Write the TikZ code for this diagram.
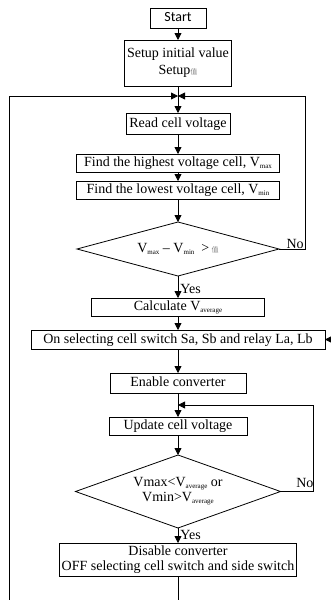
\documentclass[tikz,border=0pt]{standalone}
\usepackage{fontspec}
\setmainfont{Liberation Serif}
\newfontfamily\startfont{Carlito}
\newfontfamily\cjk{Noto Sans CJK SC}
\usetikzlibrary{positioning,shapes.geometric,arrows.meta}
\newcommand{\lowidx}[1]{\raisebox{-0.3ex}{\fontsize{7}{7}\selectfont #1}}
\newcommand{\garb}{{\cjk\fontsize{7}{7}\selectfont\color{gray}值}}
\tikzset{box/.style={draw,inner sep=0pt,outer sep=0pt},
	 sbox/.style={box,text height=10pt,text depth=3pt},
	 dia/.style={draw,diamond,inner sep=0pt,outer sep=0pt},
	 arr/.style={-{Triangle[length=7pt,width=7pt]}},
	 yes/.style={anchor=west,inner sep=2pt,text height=9pt,text depth=0pt},
	 no/.style={anchor=south,inner sep=0pt,text depth=0pt},
	 node distance = 20pt
	 }

\begin{document}
\begin{tikzpicture}[x=1pt,y=1pt,line width=0.8pt,font=\fontsize{14}{17}\selectfont]% balancing flow
        \useasboundingbox (0,0) rectangle (330,-600);
        \node[sbox,minimum width=56pt,minimum height=20pt,font=\startfont\fontsize{14}{17}\selectfont] (st) at (178,-18) {Start};
        \node[box,minimum width=107pt,minimum height=46pt,align=center] (su) [below=12pt of st] {Setup initial value\\Setup\garb};
        \node[sbox,minimum width=104pt,minimum height=21pt] (rd) [below=27pt of su] {Read cell voltage};
        \node[sbox,minimum width=203pt,minimum height=18pt] (hi) [below=20pt of rd] {Find the highest voltage cell, V\lowidx{max}};
        \node[sbox,minimum width=203pt,minimum height=18pt] (lo) [below=9pt of hi] {Find the lowest voltage cell, V\lowidx{min}};
        \node[dia,aspect=3.7,minimum width=202pt,minimum height=54pt] (d1) [below=23pt of lo] {V\lowidx{max} -- V\lowidx{min}\ \ >\,\garb};
        \node[sbox,minimum width=173pt,minimum height=18pt] (av) [below=22pt of d1] {Calculate V\lowidx{average}};
        \node[sbox,minimum width=294pt,minimum height=19pt] (sw) [below=14pt of av] {On selecting cell switch Sa, Sb and relay La, Lb};
        \node[sbox,minimum width=136pt,minimum height=20pt] (en) [below=24pt of sw] {Enable converter};
        \node[sbox,minimum width=138pt,minimum height=18pt] (up) [below=24pt of en] {Update cell voltage};
        \node[dia,aspect=2.8,minimum width=205pt,minimum height=73pt,align=center,font=\fontsize{14}{15}\selectfont] (d2) [below=20pt of up] {Vmax<V\lowidx{average} or\\Vmin>V\lowidx{average}};
        \node[box,minimum width=237pt,minimum height=33pt,align=center,font=\fontsize{14}{15}\selectfont] (ds) [below=15pt of d2] {Disable converter\\OFF selecting cell switch and side switch};
        \coordinate[below=10pt of su] (m1);
        \coordinate[below=12pt of en] (m2);
        \coordinate (r1) at (305,0);
        \coordinate (r2) at (313,0);
        \coordinate (lb) at (9,-600);
        \coordinate[right=9pt of sw] (sx);
        \draw[arr] (st) to (su);
        \draw[arr] (su) to (rd);
        \draw[arr] (rd) to (hi);
        \draw[arr] (hi) to (lo);
        \draw[arr] (lo) to (d1);
        \draw[arr] (d1) to node[yes,pos=0.6] (y1) {Yes} (av);
        \draw[arr] (av) to (sw);
        \draw[arr] (sw) to (en);
        \draw[arr] (en) to (up);
        \draw[arr] (up) to (d2);
        \draw[arr] (d2) to node[yes,pos=0.45] (y2) {Yes} (ds);
        \draw (ds) to (ds |- lb);
        \draw[arr] (lb) |- (m1);
        \draw[arr] (d1.east) to node[no,pos=0.62] (n1) {No} (d1.east -| r1) |- (m1);
        \draw[arr] (d2.east) to node[no,pos=0.75,yshift=4pt] (n2) {No} (d2.east -| r2) |- (m2);
        \draw[arr] (sx) to (sw.east);
     \end{tikzpicture}
\end{document}
